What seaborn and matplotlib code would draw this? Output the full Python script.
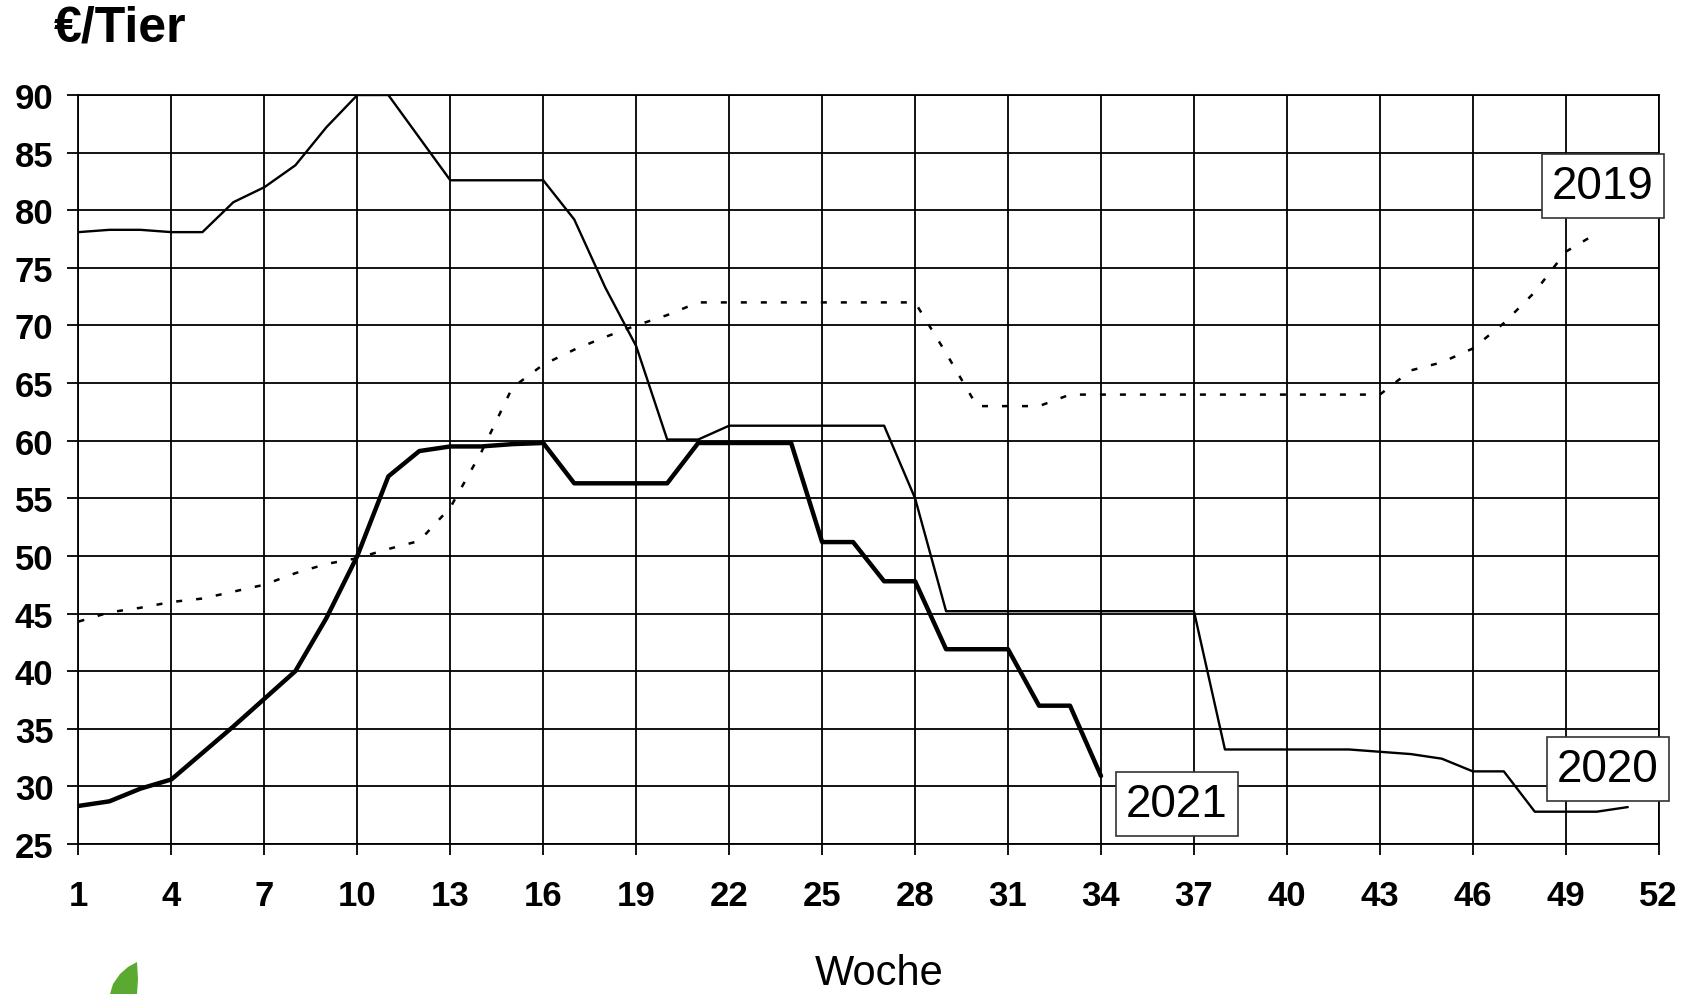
import seaborn as sns
import matplotlib.pyplot as plt
import pandas as pd
from matplotlib.patches import Polygon

# weekly prices (EUR per animal)
weeks_2019 = list(range(1, 51))
price_2019 = [44.3, 45.1, 45.5, 46.0, 46.3, 46.9, 47.5, 48.5, 49.3, 49.8,
              50.6, 51.3, 54.2, 59.0, 64.6, 66.6, 67.9, 69.0, 70.0, 70.9,
              72.0, 72.0, 72.0, 72.0, 72.0, 72.0, 72.0, 72.0, 67.6, 63.0,
              63.0, 63.0, 64.0, 64.0, 64.0, 64.0, 64.0, 64.0, 64.0, 64.0,
              64.0, 64.0, 64.0, 66.1, 66.8, 68.0, 70.2, 72.9, 76.4, 78.0]

weeks_2020 = list(range(1, 52))
price_2020 = [78.1, 78.3, 78.3, 78.1, 78.1, 80.7, 82.0, 83.9, 87.2, 90.0,
              90.0, 86.3, 82.6, 82.6, 82.6, 82.6, 79.2, 73.3, 68.2, 60.1,
              60.1, 61.3, 61.3, 61.3, 61.3, 61.3, 61.3, 55.0, 45.2, 45.2,
              45.2, 45.2, 45.2, 45.2, 45.2, 45.2, 45.2, 33.2, 33.2, 33.2,
              33.2, 33.2, 33.0, 32.8, 32.4, 31.3, 31.3, 27.8, 27.8, 27.8,
              28.2]

weeks_2021 = list(range(1, 35))
price_2021 = [28.3, 28.7, 29.8, 30.6, 32.9, 35.2, 37.6, 40.0, 44.6, 50.0,
              56.9, 59.1, 59.5, 59.5, 59.7, 59.8, 56.3, 56.3, 56.3, 56.3,
              59.8, 59.8, 59.8, 59.8, 51.2, 51.2, 47.8, 47.8, 41.9, 41.9,
              41.9, 37.0, 37.0, 30.9]

week_ticks = list(range(1, 53, 3))
price_ticks = list(range(25, 95, 5))

df = pd.concat([
    pd.DataFrame({"Woche": weeks_2019, "Preis": price_2019, "Jahr": "2019"}),
    pd.DataFrame({"Woche": weeks_2020, "Preis": price_2020, "Jahr": "2020"}),
    pd.DataFrame({"Woche": weeks_2021, "Preis": price_2021, "Jahr": "2021"}),
])

sns.set_theme(style="white")
plt.rcParams["font.family"] = ["Liberation Sans", "DejaVu Sans"]
plt.rcParams["text.color"] = "black"
plt.rcParams["xtick.color"] = "black"
plt.rcParams["ytick.color"] = "black"

fig = plt.figure(figsize=(16.84, 9.95), dpi=100)
ax = fig.add_axes([0.0466, 0.1508, 0.985 - 0.0466, 0.9035 - 0.1508])

styles = {
    "2019": dict(lw=1.8, dashes=(2.4, 5.6)),
    "2020": dict(lw=1.7),
    "2021": dict(lw=3.2),
}
for year, sub in df.groupby("Jahr"):
    st = styles[year]
    sns.lineplot(data=sub, x="Woche", y="Preis", ax=ax, color="black",
                 lw=st["lw"], legend=False)
    if "dashes" in st:
        ax.lines[-1].set_dashes(st["dashes"])

ax.set_xlim(1, 52)
ax.set_ylim(25, 90)
ax.set_xticks(week_ticks)
ax.set_yticks(price_ticks)
ax.grid(True, color="black", lw=1.3)
for s in ax.spines.values():
    s.set_color("black")
    s.set_linewidth(1.3)
ax.tick_params(axis="both", direction="out", length=8, width=1.3,
               color="black", labelsize=25, bottom=True, left=True)
ax.tick_params(axis="x", pad=17)
ax.tick_params(axis="y", pad=10)
for lab in ax.get_xticklabels() + ax.get_yticklabels():
    lab.set_fontweight("bold")
ax.set_xlabel("")
ax.set_ylabel("")

# series labels in boxes
box = dict(boxstyle="square,pad=0.22", fc="white", ec="#333333", lw=1.2)
ax.text(50.2, 82.1, "2019", fontsize=33, ha="center", va="center",
        bbox=box, clip_on=False, zorder=5)
ax.text(50.35, 31.5, "2020", fontsize=33, ha="center", va="center",
        bbox=box, clip_on=False, zorder=5)
ax.text(36.45, 28.5, "2021", fontsize=33, ha="center", va="center",
        bbox=box, clip_on=False, zorder=5)

fig.text(0.032, 0.971, "€/Tier", fontsize=36, fontweight="bold",
         ha="left", va="center")
fig.text(0.522, 0.021, "Woche", fontsize=30, ha="center", va="center")

# small green leaf of the logo, cut off at the bottom edge (inches)
leaf = [(1.37, 0.32), (1.38, 0.15), (1.37, 0.0), (1.10, 0.0),
        (1.13, 0.10), (1.20, 0.20), (1.28, 0.27)]
fig.patches.append(Polygon(leaf, closed=True, transform=fig.dpi_scale_trans,
                           fc="#5aaa32", ec="none"))

fig.savefig("out.png", dpi=100)
